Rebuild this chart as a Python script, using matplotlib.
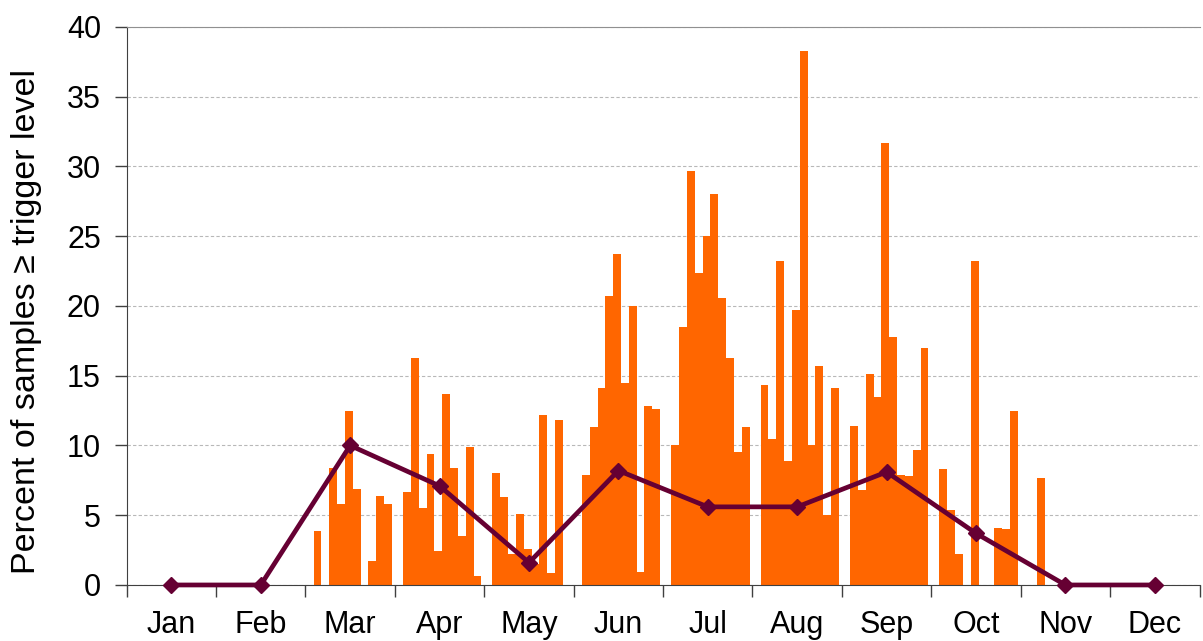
import numpy as np
import matplotlib
matplotlib.use('Agg')
import matplotlib.pyplot as plt

plt.rcParams['font.family'] = ['Liberation Sans', 'DejaVu Sans']

# Month labels and the monthly percentage (line)
months = ['Jan', 'Feb', 'Mar', 'Apr', 'May', 'Jun',
          'Jul', 'Aug', 'Sep', 'Oct', 'Nov', 'Dec']
monthly_pct = [0, 0, 10.0, 7.1, 1.6, 8.2, 5.6, 5.6, 8.1, 3.7, 0, 0]

# Percent per sampling period, 10 periods in each month (0 = nothing)
jan = [0, 0, 0, 0, 0, 0, 0, 0, 0, 0]
feb = [0, 0, 0, 0, 0, 0, 0, 0, 0, 0]
mar = [3.9, 0, 8.4, 5.8, 12.5, 6.9, 0, 1.7, 6.4, 5.8]
apr = [6.7, 16.3, 5.5, 9.4, 2.4, 13.7, 8.4, 3.5, 9.9, 0.65]
may = [8.05, 6.3, 2.2, 5.1, 2.6, 1.5, 12.2, 0.85, 11.8, 0]
jun = [7.9, 11.3, 14.1, 20.7, 23.7, 14.5, 20.0, 0.9, 12.8, 12.6]
jul = [10.0, 18.5, 29.7, 22.4, 25.0, 28.0, 20.55, 16.3, 9.55, 11.3]
aug = [14.3, 10.5, 23.2, 8.9, 19.7, 38.3, 10.0, 15.7, 5.0, 14.1]
sep = [11.4, 6.8, 15.1, 13.45, 31.7, 17.8, 7.9, 7.8, 9.7, 17.0]
oct_ = [8.3, 5.4, 2.2, 0, 23.25, 0, 0, 4.1, 4.0, 12.5]
nov = [0, 7.7, 0, 0, 0, 0, 0, 0, 0, 0]
dec = [0, 0, 0, 0, 0, 0, 0, 0, 0, 0]
periods = [jan, feb, mar, apr, may, jun, jul, aug, sep, oct_, nov, dec]

slot = 0.0876     # width of one period in month units
first = 0.135     # centre of first period inside a month

bar_x = []
bar_h = []
for m, vals in enumerate(periods):
    for k, v in enumerate(vals):
        bar_x.append(m + first + k * slot)
        bar_h.append(v)

fig = plt.figure(figsize=(12.03, 6.41), dpi=100)
ax = fig.add_axes([0.1053, 0.0874, 0.8918, 0.8705])

ax.bar(bar_x, bar_h, width=slot, color='#FF6600', linewidth=0, zorder=2)
ax.plot(np.arange(12) + 0.5, monthly_pct, color='#660033', lw=3.4,
        marker='D', ms=8.5, zorder=3, clip_on=False)

ax.set_xlim(0, 12)
ax.set_ylim(0, 40)

ax.set_xticks(range(13))
ax.set_xticklabels([])
ax.set_xticks(np.arange(12) + 0.5, minor=True)
ax.set_xticklabels(months, minor=True, fontsize=22)
ax.tick_params(axis='x', which='major', length=8.5, width=1, color='#404040')
ax.tick_params(axis='x', which='minor', length=0, pad=18)

ax.set_yticks(range(0, 41, 5))
ax.tick_params(axis='y', length=8.5, width=1, color='#404040',
               labelsize=22, pad=10)

ax.yaxis.grid(True, linestyle=(0, (3, 2)), color='#b8b8b8', lw=0.8)
ax.set_axisbelow(True)

ax.spines['right'].set_visible(False)
ax.spines['top'].set_color('#909090')
ax.spines['left'].set_color('#404040')
ax.spines['bottom'].set_color('#404040')

ax.set_ylabel('Percent of samples \u2265 trigger level', fontsize=24.5)
ax.yaxis.set_label_coords(-0.079, 0.473)

fig.savefig('out.png', dpi=100)
